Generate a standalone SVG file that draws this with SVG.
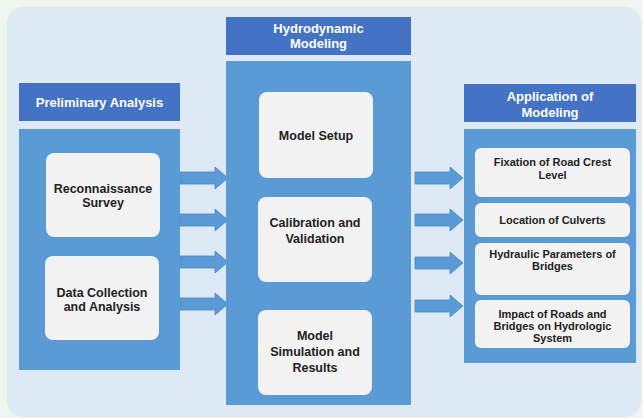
<svg xmlns="http://www.w3.org/2000/svg" xmlns:xlink="http://www.w3.org/1999/xlink" width="643" height="418" viewBox="0 0 643 418">
<style>
.hdr{fill:#4472c4;}
.pnl{fill:#5b9bd5;}
.box{fill:#f2f2f2;}
.ht{font-family:"Liberation Sans",Arial,sans-serif;font-size:13px;font-weight:bold;fill:#ffffff;text-anchor:middle;}
.bt{font-family:"Liberation Sans",Arial,sans-serif;font-size:12.5px;font-weight:bold;fill:#222222;text-anchor:middle;}
.st{font-family:"Liberation Sans",Arial,sans-serif;font-size:11px;font-weight:bold;fill:#222222;text-anchor:middle;}
.arr{fill:#5b9bd5;stroke:#4a86c0;stroke-width:0.8;}
</style>
<defs>
<path id="arrow" d="M0,-6 H35 V-11 L48,0 L35,11 V6 H0 Z"/>
</defs>
<rect x="0" y="0" width="643" height="418" fill="#eef6ee"/>
<rect x="7" y="7" width="634" height="410" rx="16" fill="#dde9f5"/>

<g id="connectors">
<use xlink:href="#arrow" class="arr" transform="translate(180,178)"/>
<use xlink:href="#arrow" class="arr" transform="translate(180,220)"/>
<use xlink:href="#arrow" class="arr" transform="translate(180,262)"/>
<use xlink:href="#arrow" class="arr" transform="translate(180,304)"/>
<use xlink:href="#arrow" class="arr" transform="translate(415,178)"/>
<use xlink:href="#arrow" class="arr" transform="translate(415,220)"/>
<use xlink:href="#arrow" class="arr" transform="translate(415,263)"/>
<use xlink:href="#arrow" class="arr" transform="translate(415,306)"/>
</g>

<g id="preliminary-analysis">
<rect class="hdr" x="19" y="83" width="161" height="38"/>
<text class="ht" x="99.5" y="107">Preliminary Analysis</text>
<rect class="pnl" x="19" y="129" width="161" height="241"/>
</g>
<g id="reconnaissance-survey">
<rect class="box" x="46" y="153" width="114" height="84" rx="8"/>
<text class="bt" x="103" y="193">Reconnaissance</text>
<text class="bt" x="103" y="207">Survey</text>
</g>
<g id="data-collection">
<rect class="box" x="45" y="256" width="114" height="84" rx="8"/>
<text class="bt" x="102" y="297">Data Collection</text>
<text class="bt" x="102" y="311">and Analysis</text>
</g>

<g id="hydrodynamic-modeling">
<rect class="hdr" x="226" y="17" width="185" height="38"/>
<text class="ht" x="318.5" y="33">Hydrodynamic</text>
<text class="ht" x="318.5" y="48">Modeling</text>
<rect class="pnl" x="226" y="61" width="185" height="344"/>
</g>
<g id="model-setup">
<rect class="box" x="259" y="92" width="114" height="86" rx="8"/>
<text class="bt" x="316" y="140">Model Setup</text>
</g>
<g id="calibration-validation">
<rect class="box" x="258" y="197" width="114" height="85" rx="8"/>
<text class="bt" x="315" y="227">Calibration and</text>
<text class="bt" x="315" y="243">Validation</text>
</g>
<g id="model-simulation">
<rect class="box" x="258" y="310" width="114" height="85" rx="8"/>
<text class="bt" x="315" y="340">Model</text>
<text class="bt" x="315" y="356">Simulation and</text>
<text class="bt" x="315" y="372">Results</text>
</g>

<g id="application-of-modeling">
<rect class="hdr" x="464" y="84" width="172" height="38"/>
<text class="ht" x="550" y="101">Application of</text>
<text class="ht" x="550" y="117">Modeling</text>
<rect class="pnl" x="464" y="129" width="172" height="234"/>
</g>
<g id="fixation">
<rect class="box" x="475" y="148" width="155" height="49" rx="6"/>
<text class="st" x="552.5" y="166">Fixation of Road Crest</text>
<text class="st" x="552.5" y="179">Level</text>
</g>
<g id="culverts">
<rect class="box" x="475" y="203" width="155" height="34" rx="6"/>
<text class="st" x="552.5" y="224">Location of Culverts</text>
</g>
<g id="bridges">
<rect class="box" x="475" y="243" width="155" height="52" rx="6"/>
<text class="st" x="552.5" y="258">Hydraulic Parameters of</text>
<text class="st" x="552.5" y="270">Bridges</text>
</g>
<g id="impact">
<rect class="box" x="475" y="300" width="155" height="48" rx="6"/>
<text class="st" x="552.5" y="318">Impact of Roads and</text>
<text class="st" x="552.5" y="330">Bridges on Hydrologic</text>
<text class="st" x="552.5" y="342">System</text>
</g>
</svg>
